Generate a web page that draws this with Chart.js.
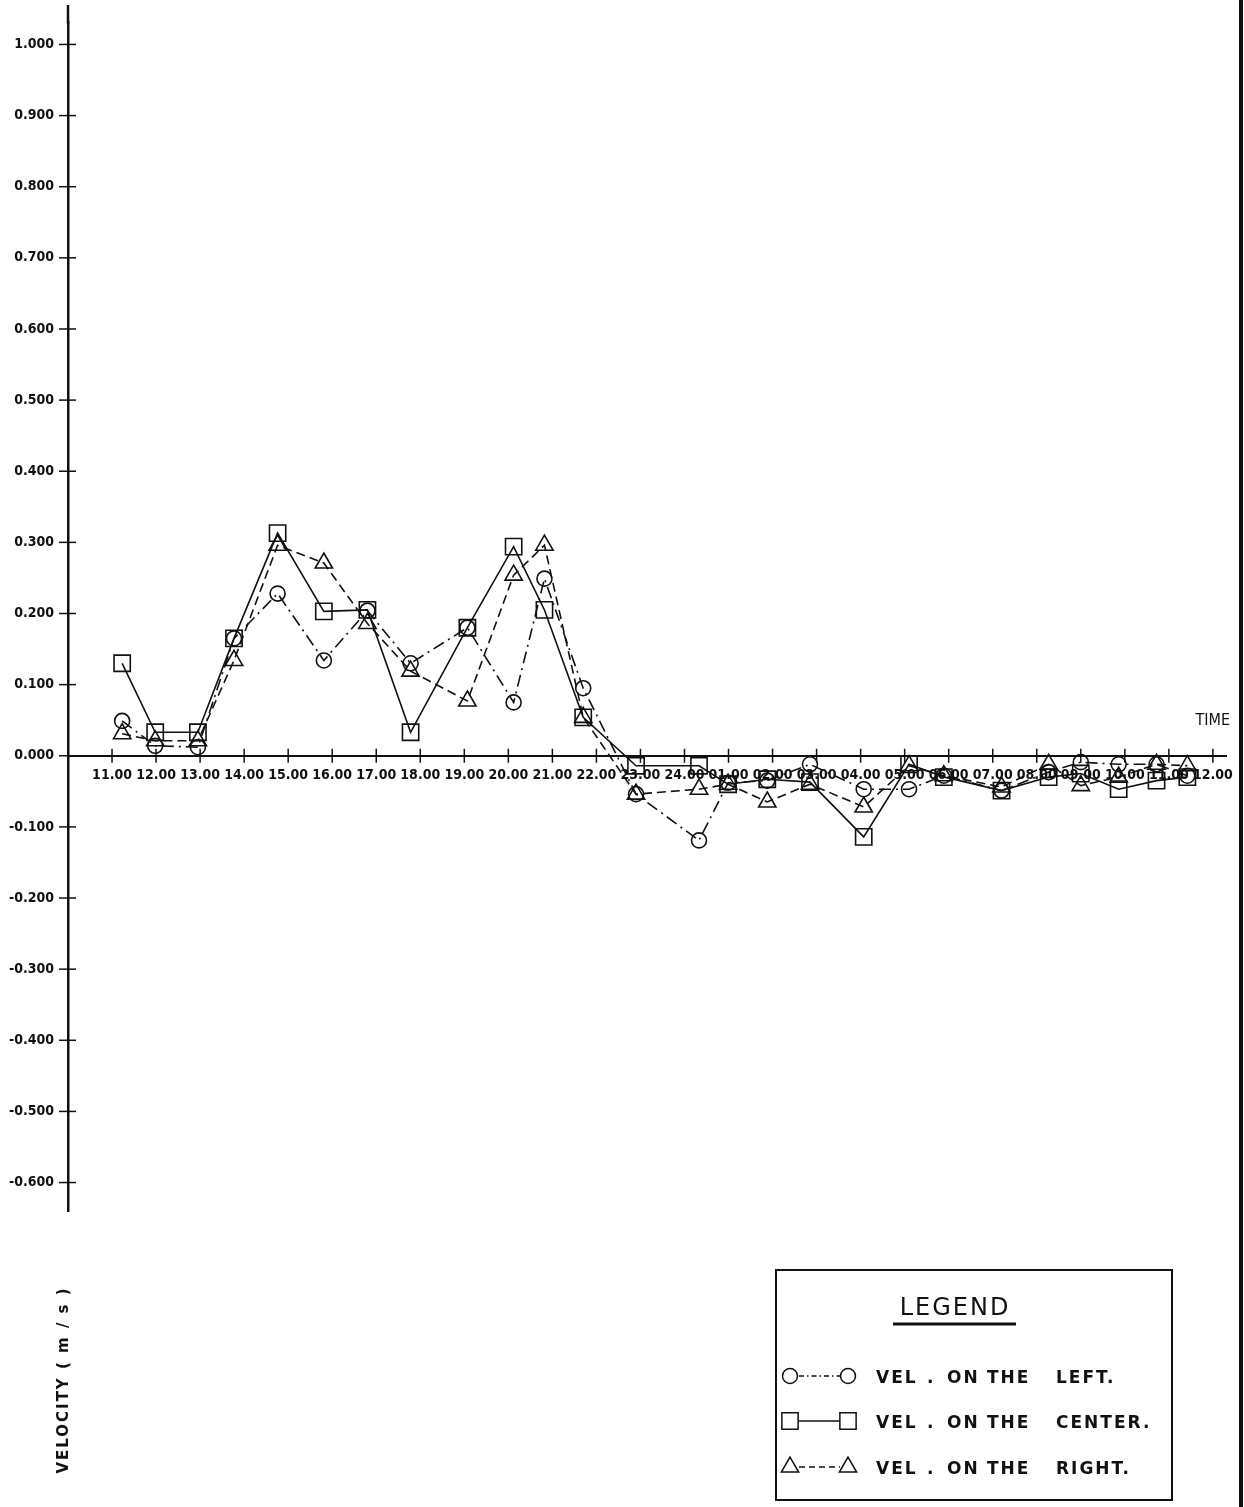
<!DOCTYPE html>
<html><head><meta charset="utf-8">
<script src="https://cdn.jsdelivr.net/npm/chart.js@4.4.1/dist/chart.umd.min.js"></script>
<style>
html,body{margin:0;padding:0;background:#fff;}
#wrap{position:relative;width:1244px;height:1507px;overflow:hidden;}
#edge{position:absolute;left:1239px;top:0;width:4px;height:1507px;background:#111;}
</style></head><body>
<div id="wrap"><canvas id="c" width="1244" height="1507"></canvas><div id="edge"></div></div>
<script>
// x tick labels (hour index 0..25)
const hourLabels = ['11.00','12.00','13.00','14.00','15.00','16.00','17.00','18.00','19.00','20.00','21.00','22.00','23.00','24.00',
  '01.00','02.00','03.00','04.00','05.00','06.00','07.00','08.00','09.00','10.00','11.00','12.00'];
// measurement times, in hours after 11.00
const sampleTimes = [0.23,0.98,1.95,2.77,3.76,4.81,5.80,6.78,8.07,9.12,9.82,10.70,11.90,13.33,13.99,14.88,15.85,17.07,18.10,18.89,20.20,21.27,22.00,22.86,23.72,24.42];
const velLeft   = [0.049,0.014,0.012,0.165,0.228,0.134,0.204,0.130,0.180,0.075,0.249,0.095,-0.054,-0.119,-0.038,-0.035,-0.012,-0.047,-0.047,-0.028,-0.049,-0.023,-0.009,-0.012,-0.012,-0.028];
const velCenter = [0.130,0.033,0.033,0.165,0.313,0.203,0.205,0.033,0.180,0.294,0.205,0.054,-0.014,-0.014,-0.040,-0.033,-0.037,-0.114,-0.012,-0.030,-0.049,-0.030,-0.025,-0.047,-0.035,-0.030];
const velRight  = [0.031,0.021,0.021,0.134,0.296,0.271,0.186,0.119,0.077,0.254,0.296,0.054,-0.054,-0.047,-0.040,-0.065,-0.040,-0.072,-0.014,-0.028,-0.044,-0.012,-0.042,-0.030,-0.012,-0.014];
const yTickValues = [-0.6,-0.5,-0.4,-0.3,-0.2,-0.1,0,0.1,0.2,0.3,0.4,0.5,0.6,0.7,0.8,0.9,1.0];
const seriesNames = ['LEFT.','CENTER.','RIGHT.'];
const legendWords = ['VEL','.','ON','THE'];

const toPts = arr => sampleTimes.map((t,i)=>({x:t,y:arr[i]}));
const INK = '#111';
const tickFont = {family:'"DejaVu Sans Condensed","DejaVu Sans",sans-serif', size:14, weight:'bold'};

const styles = [
  {data:velLeft, pointStyle:'circle', pointRadius:7.5, borderDash:[12,5,2,5], legendDash:[5,3,1.5,3]},
  {data:velCenter, pointStyle:'rect', pointRadius:11.5, borderDash:[], legendDash:[]},
  {data:velRight, pointStyle:'triangle', pointRadius:10, borderDash:[9,5], legendDash:[6,4]}
];

const decor = {
  id:'decor',
  afterDraw(chart){
    const ctx = chart.ctx, xs = chart.scales.x, ys = chart.scales.y;
    const y0 = ys.getPixelForValue(0), xa = xs.left;
    ctx.save();
    ctx.strokeStyle = INK;
    // extend y axis line up to the top of the page
    ctx.lineWidth = 2.5;
    ctx.beginPath(); ctx.moveTo(xa, chart.chartArea.top + 1); ctx.lineTo(xa, 5); ctx.stroke();
    ctx.lineWidth = 1.5;
    // crossing tick marks
    hourLabels.forEach((_,i)=>{ const p = xs.getPixelForValue(i);
      ctx.beginPath(); ctx.moveTo(p,y0-7); ctx.lineTo(p,y0+7); ctx.stroke(); });
    yTickValues.forEach(v=>{ const p = ys.getPixelForValue(v);
      ctx.beginPath(); ctx.moveTo(xa-9,p); ctx.lineTo(xa+8,p); ctx.stroke(); });
    // TIME label
    ctx.fillStyle = INK;
    ctx.font = '16px "DejaVu Sans Condensed","DejaVu Sans",sans-serif';
    ctx.textAlign = 'right'; ctx.textBaseline = 'alphabetic';
    ctx.fillText('TIME', xs.right + 4, y0 - 31);
    // y axis title
    ctx.save();
    ctx.translate(68, 1380); ctx.rotate(-Math.PI/2);
    ctx.font = 'bold 15px "DejaVu Sans",sans-serif';
    ctx.letterSpacing = '2px';
    ctx.textAlign = 'center';
    ctx.fillText('VELOCITY ( m / s )', 0, 0);
    ctx.restore();
    // legend box
    const bx = 776, by = 1270, bw = 396, bh = 230;
    ctx.lineWidth = 2;
    ctx.strokeRect(bx, by, bw, bh);
    ctx.font = '24px "DejaVu Sans",sans-serif';
    ctx.letterSpacing = '2px';
    ctx.textAlign = 'center';
    ctx.fillText('LEGEND', 955, 1315);
    ctx.lineWidth = 3;
    ctx.beginPath(); ctx.moveTo(893,1324); ctx.lineTo(1016,1324); ctx.stroke();
    ctx.textAlign = 'left';
    ctx.font = 'bold 17px "DejaVu Sans",sans-serif';
    ctx.letterSpacing = '2px';
    const rows = [1376, 1421, 1467];
    const wordX = [876, 927, 947, 987];
    chart.data.datasets.forEach((ds,k)=>{
      const ry = rows[k];
      ctx.lineWidth = 1.5;
      ctx.setLineDash(styles[k].legendDash);
      ctx.beginPath(); ctx.moveTo(799, ry); ctx.lineTo(840, ry); ctx.stroke();
      ctx.setLineDash([]);
      const opts = {pointStyle: ds.pointStyle, radius: ds.pointRadius, rotation:0, borderWidth:1.5};
      ctx.fillStyle = 'rgba(0,0,0,0)';
      [790, 848].forEach(mx=>{ Chart.helpers.drawPoint(ctx, opts, mx, ry); });
      ctx.fillStyle = INK;
      legendWords.forEach((w,j)=> ctx.fillText(w, wordX[j], ry + 7));
      ctx.fillText(seriesNames[k], 1056, ry + 7);
    });
    ctx.restore();
  }
};

new Chart(document.getElementById('c'), {
  type:'line',
  data:{ datasets: styles.map((s,k)=>({
    label: 'VEL. ON THE ' + seriesNames[k],
    data: toPts(s.data),
    borderColor: INK, borderWidth: 1.6, borderDash: s.borderDash,
    pointStyle: s.pointStyle, pointRadius: s.pointRadius, pointBorderWidth: 1.6,
    pointBorderColor: INK, pointBackgroundColor: 'rgba(0,0,0,0)',
    tension: 0, fill:false
  }))},
  options:{
    responsive:false, animation:false, devicePixelRatio:1,
    layout:{padding:{left:0, top:7, right:16, bottom:296}},
    plugins:{legend:{display:false}, tooltip:{enabled:false}},
    scales:{
      x:{ type:'linear', min:-1, max:25.3, position:{y:0},
        afterBuildTicks: sc => { sc.ticks = hourLabels.map((_,i)=>({value:i})); },
        grid:{display:false, drawTicks:false},
        border:{display:true, color:INK, width:2},
        ticks:{ autoSkip:false, maxRotation:0, padding:11, color:INK, font:tickFont,
          callback: v => hourLabels[Math.round(v)] }
      },
      y:{ type:'linear', min:-0.64, max:1.031,
        afterFit: sc => { sc.width = 68; },
        afterBuildTicks: sc => { sc.ticks = yTickValues.map(v=>({value:v})); },
        grid:{display:false, drawTicks:false},
        border:{display:true, color:INK, width:2.5},
        ticks:{ padding:14, color:INK, font:tickFont,
          callback: v => (v<0?'-':'') + Math.abs(v).toFixed(3) }
      }
    }
  },
  plugins:[decor]
});
</script>
</body></html>
